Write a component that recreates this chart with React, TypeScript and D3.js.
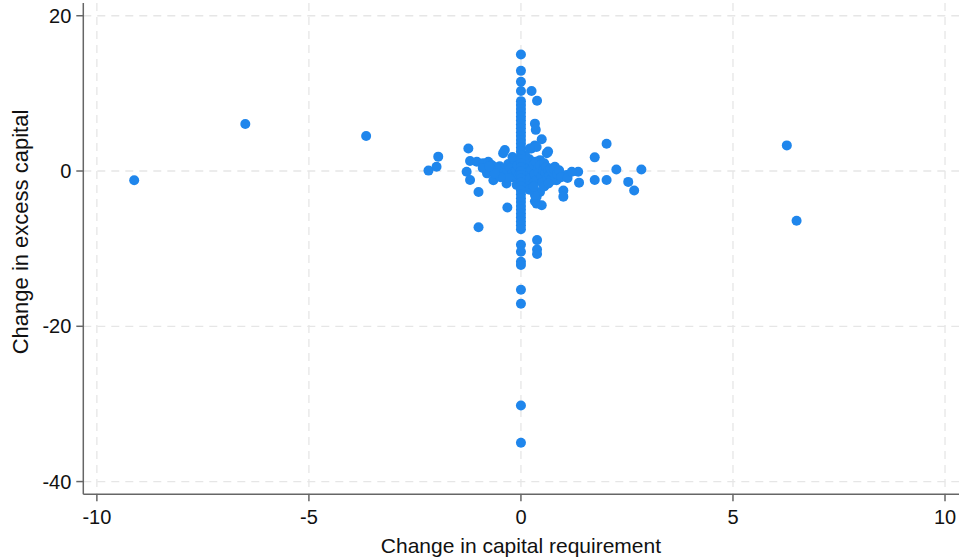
import React from "react";
import * as d3 from "d3";

// Chart values
const xTicks = [-10, -5, 0, 5, 10];
const yTicks = [-40, -20, 0, 20];

// Banks whose capital requirement did not change (x = 0)
const unchangedReqExcess = [
  15.0, 12.9, 11.5, 10.3, 9.0, 8.5, 8.0, 7.5, 7.0, 6.5, 6.0, 5.5, 5.0, 4.5,
  4.0, 3.5, 3.0, 2.5, 2.0, 1.5, 1.0, 0.5, 0, -0.5, -1.0, -1.5, -2.0, -2.5,
  -3.0, -3.5, -4.0, -4.5, -5.0, -5.5, -6.0, -6.5, -7.0, -7.5, -9.5, -10.4,
  -11.7, -12.1, -15.3, -17.1, -30.2, -35.0,
];

// Far away points
const outliers: [number, number][] = [
  [-9.12, -1.2], [-6.5, 6.05], [-3.65, 4.5], [6.27, 3.3], [6.5, -6.4],
];

// Points around the centre
const cluster: [number, number][] = [
  [-2.18, 0.05], [-1.99, 0.55], [-1.95, 1.85], [-1.24, 2.9], [-1.2, 1.3],
  [-1.28, -0.1], [-1.2, -1.15], [-1.0, -2.7], [-1.0, -7.25], [-0.32, -4.7],
  [-1.04, 1.2], [-0.89, 1.0], [-0.77, 1.2], [-0.69, 0.77], [-0.57, -0.5],
  [-0.65, -1.2], [-0.42, 2.3], [-0.38, 2.7], [-0.34, -1.6],
  [1.74, 1.76], [2.02, 3.5], [2.25, 0.2], [2.84, 0.2], [1.74, -1.15],
  [2.02, -1.15], [2.53, -1.4], [2.67, -2.5], [1.35, -0.1], [1.37, -1.5],
  [1.0, -2.5], [1.0, -3.3], [1.08, -0.5], [0.8, 0.55], [0.76, -1.15],
  [0.84, -1.2], [0.61, -1.2],
  [0.25, 10.3], [0.38, 9.05], [0.33, 6.1], [0.35, 5.3], [0.49, 4.1],
  [0.33, 3.3], [0.25, 2.9], [0.37, 3.1], [0.64, 2.5], [0.61, 2.3],
  [0.45, 1.4], [0.21, 2.9],
  [0.38, -8.9], [0.38, -10.1], [0.38, -10.7], [0.49, -4.4], [0.37, -4.2],
  [0.33, -3.9], [0.37, -3.3], [0.45, -2.7], [0.33, -3.1],
  [-0.5, 0.6], [-0.45, 0.2], [-0.4, -0.3], [-0.3, 0.9], [-0.25, 0.4],
  [-0.2, -0.2], [-0.2, -0.8], [-0.15, 1.4], [-0.12, 0.1], [-0.1, -1.1],
  [-0.08, 0.7], [-0.05, -0.5], [-0.3, -0.9], [-0.55, 0.1], [-0.6, 0.5],
  [-0.48, -0.8], [0.05, 0.3], [0.08, -0.4], [0.1, 1.0], [0.12, -1.3],
  [0.15, 0.5], [0.18, -0.2], [0.2, 1.5], [0.22, -0.9], [0.25, 0.2],
  [0.28, -1.6], [0.3, 0.8], [0.32, -0.4], [0.35, 1.2], [0.38, -1.1],
  [0.4, 0.3], [0.42, -0.2], [0.45, 0.7], [0.48, -0.7], [0.5, -1.5],
  [0.52, 0.1], [0.55, 1.0], [0.58, -0.3], [0.6, 0.5], [0.62, -0.9],
  [0.65, 0.1], [0.68, -0.5], [0.7, 0.3], [0.72, -1.0], [0.75, -0.2],
  [0.78, 0.2], [0.85, -0.4], [0.9, 0.1], [0.95, -0.8], [0.15, -2.0],
  [0.2, -2.4], [-0.1, -1.8], [0.1, 2.0], [-0.2, 1.8], [0.3, -2.0],
  [0.55, -2.0], [0.65, -1.6], [-0.7, 0.2], [-0.8, -0.3], [-0.9, 0.4],
  [-0.62, -0.3], [-0.75, 0.6], [1.1, -0.9], [1.2, -0.1],
];

const width = 959;
const height = 557;
const left = 83.3;
const right = 959;
const top = 3;
const bottom = 494.3;

const font = "'Liberation Sans', Arial, Helvetica, sans-serif";
const axisColor = "#666666";
const gridColor = "#e6e6e6";
const dotColor = "#1f86ec";

export default function App() {
  const x = d3.scaleLinear().domain([-10.32, 10.33]).range([left, right]);
  const y = d3.scaleLinear().domain([-41.64, 21.64]).range([bottom, top]);

  const points: [number, number][] = [
    ...outliers,
    ...cluster,
    ...unchangedReqExcess.map((v) => [0, v] as [number, number]),
  ];

  return (
    <svg
      width={width}
      height={height}
      style={{ position: "absolute", left: 0, top: 0, background: "#fff" }}
    >
      {/* grid */}
      <g stroke={gridColor} strokeWidth={1.3} strokeDasharray="8,6">
        {xTicks.map((t) => (
          <line key={"gx" + t} x1={x(t)} x2={x(t)} y1={top} y2={bottom} />
        ))}
        {yTicks.map((t) => (
          <line key={"gy" + t} x1={left} x2={right} y1={y(t)} y2={y(t)} />
        ))}
      </g>

      {/* points */}
      <g fill={dotColor}>
        {points.map((p, i) => (
          <circle key={i} cx={x(p[0])} cy={y(p[1])} r={5} />
        ))}
      </g>

      {/* axes */}
      <g stroke={axisColor} strokeWidth={1.5}>
        <line x1={left} x2={left} y1={top} y2={bottom} />
        <line x1={left} x2={right} y1={bottom} y2={bottom} />
        {xTicks.map((t) => (
          <line key={"tx" + t} x1={x(t)} x2={x(t)} y1={bottom} y2={bottom + 7} />
        ))}
        {yTicks.map((t) => (
          <line key={"ty" + t} x1={left - 7} x2={left} y1={y(t)} y2={y(t)} />
        ))}
      </g>

      <g fontFamily={font} fontSize={20} fill="#111">
        {xTicks.map((t) => (
          <text key={"lx" + t} x={x(t)} y={bottom + 30} textAnchor="middle">
            {t}
          </text>
        ))}
        {yTicks.map((t) => (
          <text
            key={"ly" + t}
            x={left - 12}
            y={y(t)}
            textAnchor="end"
            dominantBaseline="central"
          >
            {t}
          </text>
        ))}
      </g>

      <text
        x={x(0)}
        y={553}
        textAnchor="middle"
        fontFamily={font}
        fontSize={21}
        fill="#111"
      >
        Change in capital requirement
      </text>
      <text
        transform={`translate(20, 232) rotate(-90)`}
        textAnchor="middle"
        dominantBaseline="central"
        fontFamily={font}
        fontSize={22}
        fill="#111"
      >
        Change in excess capital
      </text>
    </svg>
  );
}
